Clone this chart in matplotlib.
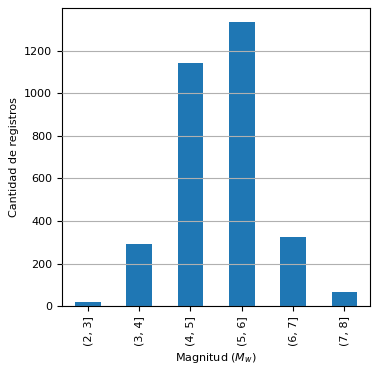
import numpy as np
import matplotlib.pyplot as plt

categories = ['(2, 3]', '(3, 4]', '(4, 5]', '(5, 6]', '(6, 7]', '(7, 8]']
counts = [20, 292, 1142, 1333, 326, 67]

plt.rcParams['font.size'] = 8

fig, ax = plt.subplots(figsize=(3.78, 3.72), dpi=100)
fig.subplots_adjust(left=0.164, right=0.979, top=0.978, bottom=0.177)

x = np.arange(len(categories))
ax.bar(x, counts, width=0.5, color='#1f77b4')
ax.set_xticks(x)
ax.set_xticklabels(categories, rotation=90)
ax.set_xlim(-0.5, len(categories) - 0.5)
ax.set_axisbelow(False)
ax.grid(True, axis='y')
ax.set_xlabel('Magnitud ($M_w$)')
ax.set_ylabel('Cantidad de registros')

plt.savefig('out.png', dpi=100)
